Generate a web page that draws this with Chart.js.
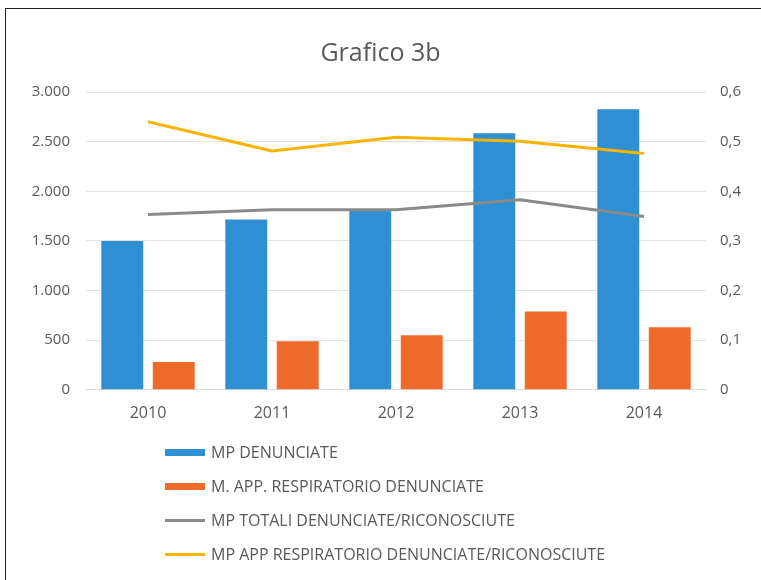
<!DOCTYPE html>
<html>
<head>
<meta charset="utf-8">
<script src="https://cdn.jsdelivr.net/npm/chart.js@4/dist/chart.umd.min.js"></script>
<style>
  html, body { margin: 0; padding: 0; background: #fff; }
  body { width: 761px; height: 580px; position: relative; overflow: hidden; font-family: "Open Sans", sans-serif; }
  #frame { position: absolute; left: 5px; top: 8px; width: 800px; height: 600px; border-left: 1.5px solid #222; border-top: 1.5px solid #222; }
  #wrap { position: absolute; left: 0; top: 0; width: 761px; height: 437px; }
  #legend { position: absolute; left: 165px; top: 435px; }
  .item { height: 34px; display: flex; align-items: center; font-size: 16px; color: #595959; }
  .sw { width: 40px; margin-right: 6px; }
</style>
</head>
<body>
<div id="frame"></div>
<div id="wrap"><canvas id="c"></canvas></div>
<div id="legend"></div>
<script>
const categories = ["2010", "2011", "2012", "2013", "2014"];
const seriesNames = [
  "MP DENUNCIATE",
  "M. APP. RESPIRATORIO DENUNCIATE",
  "MP TOTALI DENUNCIATE/RICONOSCIUTE",
  "MP APP RESPIRATORIO DENUNCIATE/RICONOSCIUTE"
];
const mpDenunciate = [1500, 1715, 1800, 2585, 2825];
const respDenunciate = [280, 490, 550, 790, 630];
const mpTotaliRatio = [0.353, 0.363, 0.363, 0.383, 0.349];
const respRatio = [0.540, 0.481, 0.509, 0.501, 0.476];
const leftTicks = [0, 500, 1000, 1500, 2000, 2500, 3000];
const rightTicks = [0, 0.1, 0.2, 0.3, 0.4, 0.5, 0.6];

const colors = ["#2E8FD3", "#EE6A2A", "#8A8A8A", "#F7B500"];
const txt = "#595959";
const fontFam = "'Open Sans', sans-serif";

const chart = new Chart(document.getElementById("c"), {
  data: {
    labels: categories,
    datasets: [
      { type: "line", label: seriesNames[3], data: respRatio, yAxisID: "y1", borderColor: colors[3], backgroundColor: colors[3], borderWidth: 3, pointRadius: 0, tension: 0, order: 0 },
      { type: "line", label: seriesNames[2], data: mpTotaliRatio, yAxisID: "y1", borderColor: colors[2], backgroundColor: colors[2], borderWidth: 3, pointRadius: 0, tension: 0, order: 1 },
      { type: "bar", label: seriesNames[0], data: mpDenunciate, yAxisID: "y", backgroundColor: colors[0], categoryPercentage: 0.83, barPercentage: 0.815, order: 2 },
      { type: "bar", label: seriesNames[1], data: respDenunciate, yAxisID: "y", backgroundColor: colors[1], categoryPercentage: 0.83, barPercentage: 0.815, order: 3 }
    ]
  },
  options: {
    responsive: true,
    maintainAspectRatio: false,
    animation: false,
    layout: { padding: { left: 0, right: 0, top: 0, bottom: 0 } },
    plugins: {
      legend: { display: false },
      tooltip: { enabled: false },
      title: {
        display: true,
        text: "Grafico 3b",
        color: txt,
        font: { family: fontFam, size: 25, weight: "normal" },
        padding: { top: 39, bottom: 23 }
      }
    },
    scales: {
      x: {
        grid: { display: false, drawTicks: false },
        border: { display: true, color: "#d9d9d9" },
        ticks: { color: txt, font: { family: fontFam, size: 16 }, padding: 14 }
      },
      y: {
        position: "left",
        min: 0, max: 3000,
        afterBuildTicks: (s) => { s.ticks = leftTicks.map(v => ({ value: v })); },
        afterFit: (s) => { s.width = 86; },
        grid: { color: "#e3e3e3", drawTicks: false, lineWidth: 1 },
        border: { display: false },
        ticks: {
          color: txt, font: { family: fontFam, size: 15 }, padding: 16,
          callback: (v) => v.toLocaleString("it-IT")
        }
      },
      y1: {
        position: "right",
        min: 0, max: 0.6,
        afterBuildTicks: (s) => { s.ticks = rightTicks.map(v => ({ value: v })); },
        afterFit: (s) => { s.width = 55; },
        grid: { display: false, drawTicks: false },
        border: { display: false },
        ticks: {
          color: txt, font: { family: fontFam, size: 15 }, padding: 14,
          callback: (v) => v === 0 ? "0" : v.toFixed(1).replace(".", ",")
        }
      }
    }
  }
});

// HTML legend built from the chart's datasets
const legendOrder = [2, 3, 1, 0];
const leg = document.getElementById("legend");
legendOrder.forEach(i => {
  const ds = chart.data.datasets[i];
  const row = document.createElement("div");
  row.className = "item";
  const sw = document.createElement("span");
  sw.className = "sw";
  sw.style.background = ds.type === "bar" ? ds.backgroundColor : ds.borderColor;
  sw.style.height = ds.type === "bar" ? "7px" : "3px";
  const t = document.createElement("span");
  t.textContent = ds.label;
  row.appendChild(sw); row.appendChild(t);
  leg.appendChild(row);
});
</script>
</body>
</html>
